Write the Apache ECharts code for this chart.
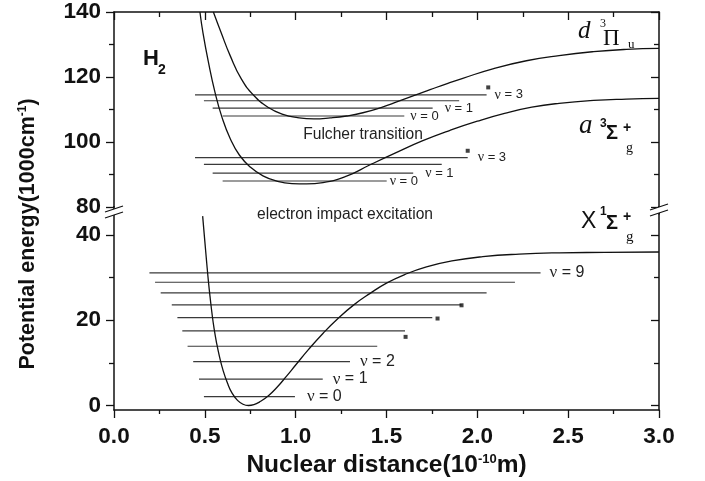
<!DOCTYPE html>
<html><head><meta charset="utf-8">
<script src="https://cdn.jsdelivr.net/npm/echarts@6/dist/echarts.min.js"></script>
<style>html,body{margin:0;padding:0;background:#fff}#c{width:705px;height:481px}</style>
</head><body><div id="c"></div>
<script>
// ---------------- data ----------------
// X 1Σg+ ground state potential curve (r in 1e-10 m, E in 1000 cm^-1)
const xStateR = [0.488,0.50,0.51,0.52,0.53,0.54,0.55,0.565,0.58,0.60,0.625,0.65,0.68,0.71,0.74,0.77,0.80,0.85,0.90,0.95,1.00,1.07,1.15,1.23,1.32,1.41,1.50,1.60,1.72,1.86,2.03,2.23,2.45,2.70,3.0];
const xStateE = [44.4,38.5,33.6,29.0,25.0,21.4,18.3,14.6,11.6,8.3,5.2,2.9,1.2,0.3,0,0.2,0.8,2.3,4.4,6.9,9.5,13.1,16.9,20.3,23.6,26.3,28.7,30.7,32.5,33.9,34.9,35.5,35.8,35.9,36.0];
// d 3Πu state curve
const dStateR = [0.547,0.59,0.64,0.70,0.77,0.85,0.93,1.01,1.10,1.19,1.28,1.37,1.47,1.56,1.65,1.74,1.83,1.92,2.09,2.27,2.45,2.64,2.82,3.0];
const dStateE = [140,133.6,126.5,119.5,114.3,110.6,108.5,107.5,107.1,107.4,108.0,109.0,110.6,112.4,114.3,116.1,117.9,119.6,122.6,125.0,126.6,127.8,128.5,128.8];
// a 3Σg+ state curve
const aStateR = [0.473,0.49,0.52,0.555,0.595,0.64,0.69,0.75,0.82,0.90,0.98,1.06,1.15,1.28,1.41,1.556,1.70,1.85,2.0,2.15,2.3,2.45,2.64,2.82,3.0];
const aStateE = [140,133.5,124.5,115.5,107.5,101.0,96.0,92.3,89.6,87.9,87.2,87.1,87.5,89.5,93.0,96.8,100.4,103.6,106.4,108.8,110.7,111.9,112.8,113.2,113.4];

// vibrational levels: energy, left end, right end
const xLevelE = [2.1,6.2,10.3,13.9,17.5,20.6,23.6,26.4,28.9,31.1];
const xLevelL = [0.495,0.468,0.436,0.405,0.376,0.349,0.318,0.257,0.226,0.195];
const xLevelR = [0.996,1.149,1.299,1.449,1.602,1.752,1.913,2.051,2.207,2.348];
const xLevelLabel = ['ν = 0','ν = 1','ν = 2','','','','','','','ν = 9'];

const dLevelE = [108.0,110.4,112.7,114.5];
const dLevelL = [0.598,0.543,0.495,0.446];
const dLevelR = [1.598,1.754,1.90,2.051];
const dLevelLabel = ['ν = 0','ν = 1','','ν = 3'];

const aLevelE = [88.0,90.4,93.1,95.2];
const aLevelL = [0.598,0.543,0.495,0.446];
const aLevelR = [1.501,1.647,1.804,1.947];
const aLevelLabel = ['ν = 0','ν = 1','','ν = 3'];

// small square markers
const upperSquares = [[2.06,116.8],[1.947,97.3]];
const lowerSquares = [[1.605,16.1],[1.781,20.4],[1.913,23.5]];

const xTickLabels = [0,0.5,1,1.5,2,2.5,3];
const upperYTicks = [80,100,120,140];
const lowerYTicks = [0,20,40];
const lowerYMinor = [10,30];

// ---------------- styles ----------------
const SANS = "'Liberation Sans',Arial,sans-serif";
const SERIF = "'Liberation Serif','Times New Roman',serif";
const INK = '#111';
const LEVEL = '#3a3a3a';

const xLabelDist = [12,10,10,0,0,0,0,0,0,9];
const dLabelDist = [6,12,0,8];
const aLabelDist = [3,12,0,10];

function curve(r, e, upper) {
  return {
    type:'line', xAxisIndex: upper?0:1, yAxisIndex: upper?0:2,
    data: r.map((x,i)=>[x,e[i]]), showSymbol:false, symbol:'none',
    smooth:0.5, silent:true, z:3,
    lineStyle:{color:INK, width:1.3}
  };
}
function levels(L, R, E, labels, dist, upper, fs) {
  return E.map((e,i)=>({
    type:'line', xAxisIndex: upper?0:1, yAxisIndex: upper?0:2,
    data:[[L[i],e],[R[i],e]], showSymbol:false, symbol:'none', silent:true, z:2,
    lineStyle:{color:LEVEL, width:1.2},
    endLabel: labels[i] ? {
      show:true, distance: dist[i],
      formatter: '{nu|ν}' + labels[i].slice(1),
      color:'#222', fontFamily:SANS, fontSize:fs,
      rich:{nu:{fontFamily:SERIF, fontSize:fs+1, color:'#222'}}
    } : {show:false}
  }));
}

const series = [
  curve(xStateR, xStateE, false),
  curve(dStateR, dStateE, true),
  curve(aStateR, aStateE, true),
  ...levels(xLevelL, xLevelR, xLevelE, xLevelLabel, xLabelDist, false, 16),
  ...levels(dLevelL, dLevelR, dLevelE, dLevelLabel, dLabelDist, true, 13),
  ...levels(aLevelL, aLevelR, aLevelE, aLevelLabel, aLabelDist, true, 13),
  {type:'scatter', xAxisIndex:0, yAxisIndex:0, data:upperSquares, symbol:'rect', symbolSize:4, itemStyle:{color:INK}, silent:true, z:4},
  {type:'scatter', xAxisIndex:1, yAxisIndex:2, data:lowerSquares, symbol:'rect', symbolSize:4, itemStyle:{color:INK}, silent:true, z:4}
];

const axisLine = {show:true, onZero:false, lineStyle:{color:INK, width:1.5}};
const tickLabel = {fontFamily:SANS, fontWeight:'bold', fontSize:22.5, color:INK};

const GL = 114, GR = 46, UT = 12, UH = 195, LT = 213.6, LH = 196.4;

const xAxis = [
  {gridIndex:0, type:'value', position:'top', min:0, max:3, interval:0.5,
   axisLine, axisTick:{show:true, inside:true, length:8, lineStyle:{color:INK,width:1.3}},
   minorTick:{show:true, splitNumber:2, length:5, lineStyle:{color:INK,width:1.3}},
   axisLabel:{show:false}, splitLine:{show:false}},
  {gridIndex:1, type:'value', position:'bottom', min:0, max:3, interval:0.5,
   axisLine, axisTick:{show:true, inside:false, length:8, lineStyle:{color:INK,width:1.3}},
   minorTick:{show:true, splitNumber:2, length:4, lineStyle:{color:INK,width:1.3}},
   axisLabel:Object.assign({margin:15, formatter:v=>xTickLabels.includes(v)?v.toFixed(1):''}, tickLabel),
   splitLine:{show:false},
   name:'Nuclear distance(10{s|-10}m)', nameLocation:'middle', nameGap:43,
   nameTextStyle:{fontFamily:SANS, fontWeight:'bold', fontSize:24.5, color:INK,
     rich:{s:{fontFamily:SANS, fontWeight:'bold', fontSize:13, color:INK, verticalAlign:'top', lineHeight:13}}}}
];

const yAxis = [
  {gridIndex:0, type:'value', position:'left', min:80, max:140, interval:20,
   axisLine, axisTick:{show:true, inside:false, length:8, lineStyle:{color:INK,width:1.3}},
   minorTick:{show:true, splitNumber:2, length:5, lineStyle:{color:INK,width:1.3}},
   axisLabel:Object.assign({margin:13, formatter:v=>upperYTicks.includes(v)?String(v):''}, tickLabel),
   splitLine:{show:false}},
  {gridIndex:0, type:'value', position:'right', min:80, max:140, interval:20,
   axisLine, axisTick:{show:true, inside:true, length:8, lineStyle:{color:INK,width:1.3}},
   minorTick:{show:true, splitNumber:2, length:5, lineStyle:{color:INK,width:1.3}},
   axisLabel:{show:false}, splitLine:{show:false}},
  {gridIndex:1, type:'value', position:'left', min:-1.05, max:45,
   axisLine, axisTick:{show:true, inside:false, length:8, customValues:lowerYTicks, lineStyle:{color:INK,width:1.3}},
   axisLabel:Object.assign({margin:13, customValues:lowerYTicks, formatter:v=>String(v)}, tickLabel),
   splitLine:{show:false}},
  {gridIndex:1, type:'value', position:'right', min:-1.05, max:45,
   axisLine, axisTick:{show:true, inside:true, length:8, customValues:lowerYTicks, lineStyle:{color:INK,width:1.3}},
   axisLabel:{show:false}, splitLine:{show:false}},
  {gridIndex:1, type:'value', position:'left', min:-1.05, max:45,
   axisLine:{show:false}, axisTick:{show:true, inside:false, length:5, customValues:lowerYMinor, lineStyle:{color:INK,width:1.3}},
   axisLabel:{show:false}, splitLine:{show:false}},
  {gridIndex:1, type:'value', position:'right', min:-1.05, max:45,
   axisLine:{show:false}, axisTick:{show:true, inside:true, length:5, customValues:lowerYMinor, lineStyle:{color:INK,width:1.3}},
   axisLabel:{show:false}, splitLine:{show:false}}
];

function breakMark(xc, yTop) {
  const x0 = xc - 9, x1 = xc + 9;
  return [
    {type:'line', shape:{x1:xc, y1:UT+UH-1, x2:xc, y2:LT+1}, style:{stroke:INK, lineWidth:1.5}, z:100},
    {type:'polygon', shape:{points:[[x0,yTop],[x1,yTop-6],[x1,yTop],[x0,yTop+6]]}, style:{fill:'#fff'}, z:101},
    {type:'line', shape:{x1:x0, y1:yTop, x2:x1, y2:yTop-6}, style:{stroke:INK, lineWidth:1.3}, z:102},
    {type:'line', shape:{x1:x0, y1:yTop+6, x2:x1, y2:yTop}, style:{stroke:INK, lineWidth:1.3}, z:102}
  ];
}
function txt(x, y, text, font, extra) {
  return Object.assign({type:'text', x, y, z:110, silent:true,
    style:Object.assign({text, fill:INK, align:'left', verticalAlign:'middle'}, font)}, extra||{});
}

const graphic = [
  ...breakMark(GL, 212),
  ...breakMark(705-GR, 210),
  // y axis title
  {type:'text', x:28, y:234, rotation:Math.PI/2, z:110, silent:true,
   style:{text:'Potential energy(1000cm{s|-1})', fill:INK, align:'center', verticalAlign:'middle',
     fontFamily:SANS, fontWeight:'bold', fontSize:21.5,
     rich:{s:{fontFamily:SANS, fontWeight:'bold', fontSize:12, fill:INK, verticalAlign:'top', lineHeight:12}}}},
  // H2
  txt(143, 59, 'H', {fontFamily:SANS, fontWeight:'bold', fontSize:22}),
  txt(158, 70, '2', {fontFamily:SANS, fontWeight:'bold', fontSize:14}),
  // d 3Πu
  txt(578, 31, 'd', {fontFamily:SERIF, fontStyle:'italic', fontSize:25}),
  txt(600, 24, '3', {fontFamily:SERIF, fontSize:12}),
  txt(603, 39, 'Π', {fontFamily:SERIF, fontSize:23}),
  txt(628, 45, 'u', {fontFamily:SERIF, fontSize:13}),
  // a 3Σg+
  txt(579, 126, 'a', {fontFamily:SERIF, fontStyle:'italic', fontSize:27}),
  txt(600, 124, '3', {fontFamily:SANS, fontWeight:'bold', fontSize:12}),
  txt(606, 133, 'Σ', {fontFamily:SANS, fontWeight:'bold', fontSize:20}),
  txt(623, 128, '+', {fontFamily:SANS, fontWeight:'bold', fontSize:14}),
  txt(626, 148, 'g', {fontFamily:SERIF, fontSize:14}),
  // X 1Σg+
  txt(581, 222, 'X', {fontFamily:SANS, fontSize:23}),
  txt(600, 212, '1', {fontFamily:SANS, fontWeight:'bold', fontSize:12}),
  txt(606, 223, 'Σ', {fontFamily:SANS, fontWeight:'bold', fontSize:20}),
  txt(623, 217, '+', {fontFamily:SANS, fontWeight:'bold', fontSize:14}),
  txt(626, 237, 'g', {fontFamily:SERIF, fontSize:15}),
  // annotations
  txt(363, 135, 'Fulcher transition', {fontFamily:SANS, fontSize:15.6, fill:'#222', align:'center'}),
  txt(345, 215, 'electron impact excitation', {fontFamily:SANS, fontSize:15.6, fill:'#222', align:'center'})
];

const chart = echarts.init(document.getElementById('c'), null, {renderer:'canvas'});
chart.setOption({
  animation:false,
  backgroundColor:'#fff',
  grid:[{left:GL, right:GR, top:UT, height:UH}, {left:GL, right:GR, top:LT, height:LH}],
  xAxis, yAxis, series, graphic
});
</script></body></html>
